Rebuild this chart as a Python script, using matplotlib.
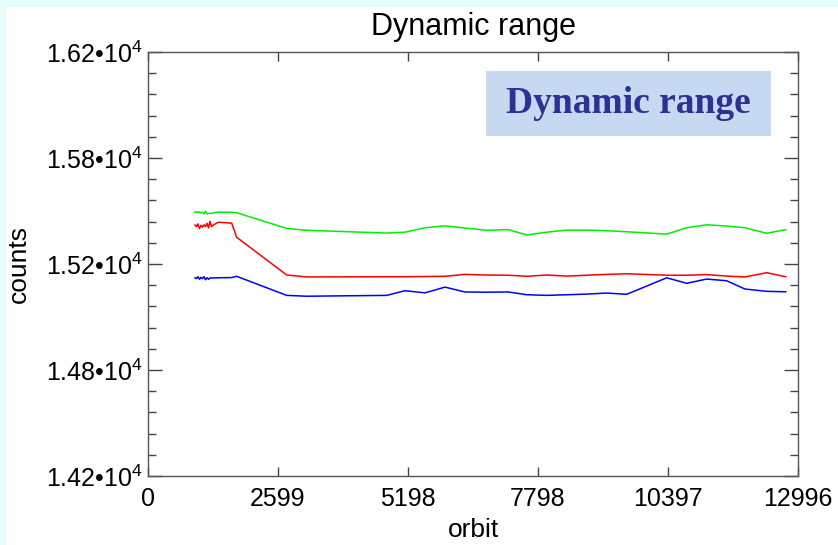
import matplotlib.pyplot as plt
from matplotlib.patches import Rectangle
from matplotlib.ticker import FixedLocator, MultipleLocator

plt.rcParams["font.family"] = ["Liberation Sans", "DejaVu Sans"]
plt.rcParams["mathtext.fontset"] = "custom"
plt.rcParams["mathtext.rm"] = "Liberation Sans"
plt.rcParams["mathtext.it"] = "Liberation Sans"
plt.rcParams["mathtext.bf"] = "Liberation Sans:bold"

# orbit numbers of the monitoring samples
orbit = [940, 970, 1000, 1030, 1060, 1090, 1120, 1150, 1180, 1210, 1240, 1270, 1300,
         1406, 1673, 1773, 2773, 3173, 4773, 5138, 5538, 5938, 6338, 6772, 7204,
         7572, 7972, 8372, 8771, 9171, 9571, 10371, 10771, 11171, 11570, 11936,
         12370, 12750]

# dynamic range per channel (counts)
green_counts = [15444, 15447, 15442, 15445, 15441, 15444, 15437, 15449, 15436, 15439,
                15439, 15439, 15441, 15445, 15444, 15442, 15368, 15359, 15346, 15350,
                15371, 15380, 15370, 15359, 15362, 15337, 15350, 15360, 15360, 15357,
                15352, 15341, 15371, 15385, 15379, 15371, 15345, 15362]
red_counts = [15384, 15376, 15389, 15367, 15383, 15373, 15385, 15376, 15392, 15370,
              15401, 15376, 15383, 15397, 15393, 15326, 15148, 15139, 15140, 15140,
              15141, 15142, 15151, 15148, 15147, 15142, 15148, 15143, 15147, 15151,
              15154, 15147, 15147, 15150, 15143, 15139, 15159, 15140]
blue_counts = [15135, 15131, 15140, 15128, 15137, 15131, 15140, 15126, 15135, 15128,
               15134, 15134, 15134, 15135, 15136, 15142, 15052, 15048, 15052, 15074,
               15064, 15091, 15068, 15067, 15068, 15055, 15052, 15055, 15058, 15063,
               15057, 15135, 15109, 15129, 15121, 15082, 15071, 15069]

x_ticks = [0, 2599, 5198, 7798, 10397, 12996]
y_ticks = [14200, 14700, 15200, 15700, 16200]
y_tick_labels = ["1.42", "1.48", "1.52", "1.58", "1.62"]

fig = plt.figure(figsize=(8.38, 5.45), dpi=100, facecolor="#e4fcfc")
fig.patches.append(Rectangle((6 / 838, 0), 1, 1 - 7 / 545, transform=fig.transFigure,
                             facecolor="white", edgecolor="none", zorder=-1))

ax = fig.add_axes([148 / 838, 69 / 545, 650 / 838, 424 / 545])

ax.plot(orbit, green_counts, color="#00ee00", lw=1.1)
ax.plot(orbit, red_counts, color="#ff0000", lw=1.1)
ax.plot(orbit, blue_counts, color="#0000ff", lw=1.1)

ax.set_xlim(0, 12996)
ax.set_ylim(14200, 16200)
ax.xaxis.set_major_locator(FixedLocator(x_ticks))
ax.set_xticklabels([str(t) for t in x_ticks])
ax.yaxis.set_major_locator(FixedLocator(y_ticks))
ax.set_yticklabels([f"{s}•10$^{{4}}$" for s in y_tick_labels])
ax.yaxis.set_minor_locator(MultipleLocator(100))

for side in ax.spines.values():
    side.set_color("#555555")
    side.set_linewidth(1.0)
ax.tick_params(axis="both", which="both", direction="in", top=True, right=True,
               color="#444444", labelsize=18, width=1.0)
ax.tick_params(axis="y", which="major", length=10, pad=4)
ax.tick_params(axis="y", which="minor", length=5.8)
ax.tick_params(axis="x", which="major", length=6.5, pad=8)

ax.set_title("Dynamic range", fontsize=22, pad=12)
ax.set_xlabel("orbit", fontsize=19, labelpad=5)
ax.set_ylabel("counts", fontsize=19, labelpad=11)

# caption box in the upper right
ax.add_patch(Rectangle((0.52, 0.802), 0.438, 0.153, transform=ax.transAxes,
                       facecolor="#c6d9f1", edgecolor="none", zorder=3))
ax.text(0.739, 0.878, "Dynamic range", transform=ax.transAxes, ha="center", va="center",
        fontsize=27, fontweight="bold", family="Liberation Serif", color="#2e3192", zorder=4)

fig.savefig("out.png", dpi=100, facecolor=fig.get_facecolor())
